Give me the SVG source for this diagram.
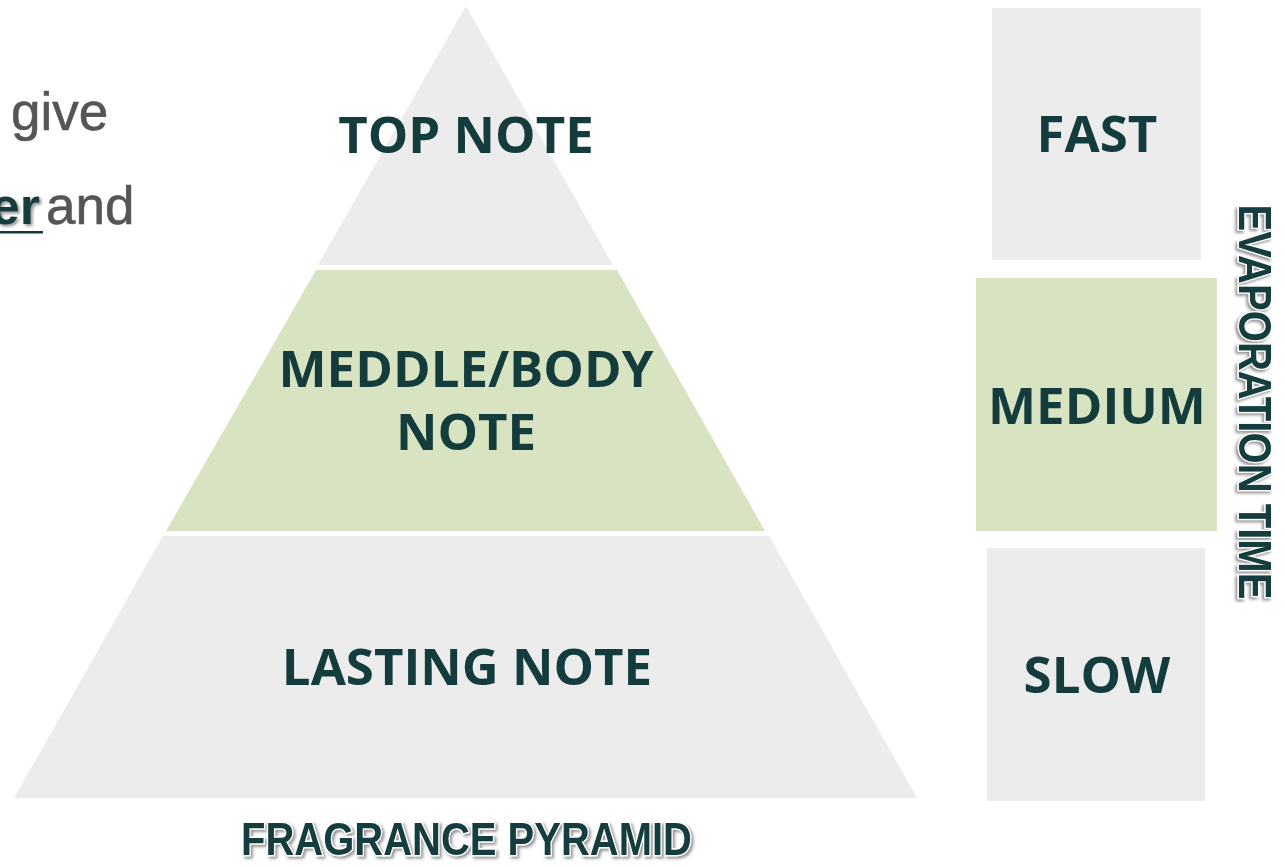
<svg xmlns="http://www.w3.org/2000/svg" width="1285" height="867" viewBox="0 0 1285 867">
<defs>
<style>
.gray{fill:#ececec}
.green{fill:#d8e4c1}
.lbl{font-family:"Open Sans","Noto Sans",sans-serif;font-weight:700;font-size:51px;fill:#143c3c;text-anchor:middle}
.body{font-family:"Liberation Sans",Arial,sans-serif;font-size:53px;fill:#555555;stroke:#555555;stroke-width:0.6}
.title{font-family:"Liberation Sans",Arial,sans-serif;font-weight:700;fill:#143c3c;stroke:#ffffff;stroke-width:3;paint-order:stroke;filter:url(#sh)}
</style>
<filter id="sh" x="-10%" y="-30%" width="120%" height="160%">
<feDropShadow dx="2" dy="2" stdDeviation="1.5" flood-color="#777777" flood-opacity="0.8"/>
</filter>
</defs>
<rect width="1285" height="867" fill="#ffffff"/>
<g id="intro-text">
<text class="body" x="11" y="130">give</text>
<text class="body" x="46" y="224">and</text>
<text x="40" y="224" font-family="Liberation Sans, Arial, sans-serif" font-weight="700" font-size="52" fill="#143c3c" text-anchor="end" filter="url(#sh)">er</text>
<rect x="0" y="231" width="43" height="2.5" fill="#143c3c"/>
</g>
<g id="top-note">
<polygon class="gray" points="466,6 613,265 318,265"/>
<text class="lbl" x="466" y="153">TOP NOTE</text>
</g>
<g id="middle-note">
<polygon class="green" points="316,270 617,270 765,531 166,531"/>
<text class="lbl" x="466" y="387">MEDDLE/BODY</text>
<text class="lbl" x="466" y="450">NOTE</text>
</g>
<g id="lasting-note">
<polygon class="gray" points="163,536 769,536 917,798 14,798"/>
<text class="lbl" x="467" y="685">LASTING NOTE</text>
</g>
<g id="fast">
<rect class="gray" x="992" y="8" width="209" height="252"/>
<text class="lbl" x="1097" y="152">FAST</text>
</g>
<g id="medium">
<rect class="green" x="976" y="278" width="241" height="253"/>
<text class="lbl" x="1097" y="424">MEDIUM</text>
</g>
<g id="slow">
<rect class="gray" x="987" y="548" width="218" height="253"/>
<text class="lbl" x="1097" y="693">SLOW</text>
</g>
<g id="pyramid-title">
<text class="title" x="466.5" y="855" font-size="46" text-anchor="middle" textLength="451" lengthAdjust="spacingAndGlyphs">FRAGRANCE PYRAMID</text>
</g>
<g id="evaporation-title">
<text class="title" transform="translate(1239,402) rotate(90)" x="0" y="0" font-size="46" text-anchor="middle" textLength="395" lengthAdjust="spacingAndGlyphs">EVAPORATION TIME</text>
</g>
<g id="connectors"></g>
</svg>
